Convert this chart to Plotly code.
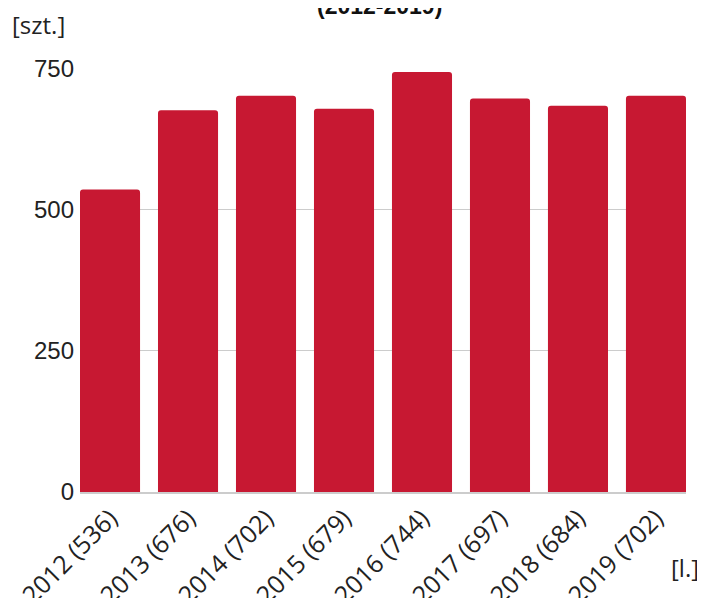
import plotly.graph_objects as go

years = ["2012", "2013", "2014", "2015", "2016", "2017", "2018", "2019"]
values = [536, 676, 702, 679, 744, 697, 684, 702]
labels = [f"{y} ({v})" for y, v in zip(years, values)]
y_ticks = [0, 250, 500, 750]

bar_w = 0.77

fig = go.Figure(go.Bar(x=labels, y=values, marker_color="#c71832",
                       marker_line_width=0))

fig.update_layout(
    width=705, height=598,
    margin=dict(l=72, r=27, t=60, b=114),
    paper_bgcolor="white", plot_bgcolor="white",
    bargap=1 - bar_w, barcornerradius=3,
    showlegend=False,
    xaxis=dict(tickangle=-45, tickfont=dict(family="Open Sans", size=25, color="#222"),
               range=[-bar_w / 2, len(labels) - 1 + bar_w / 2],
               showgrid=False, ticks="", showline=True, linecolor="#cccccc", linewidth=1.5,
               automargin=False),
    yaxis=dict(range=[0, 751], tickvals=y_ticks,
               tickfont=dict(family="Liberation Sans", size=24, color="#222"),
               showgrid=True, gridcolor="#cccccc", gridwidth=1,
               zeroline=False, ticks="", ticklabelstandoff=5, automargin=False),
    annotations=[
        dict(text="<b>(2012-2019)</b>", xref="paper", yref="paper", x=0.495, y=1.146,
             xanchor="center", yanchor="middle", showarrow=False,
             font=dict(family="Liberation Sans", size=23, color="#111")),
        dict(text="[szt.]", xref="paper", yref="paper", x=-0.1155, y=1.1026,
             xanchor="left", yanchor="middle", showarrow=False,
             font=dict(family="Open Sans", size=24, color="#222")),
        dict(text="[l.]", xref="paper", yref="paper", x=1.025, y=-0.179,
             xanchor="right", yanchor="middle", showarrow=False,
             font=dict(family="Open Sans", size=24, color="#222")),
    ],
)

fig.write_html("out.html")
